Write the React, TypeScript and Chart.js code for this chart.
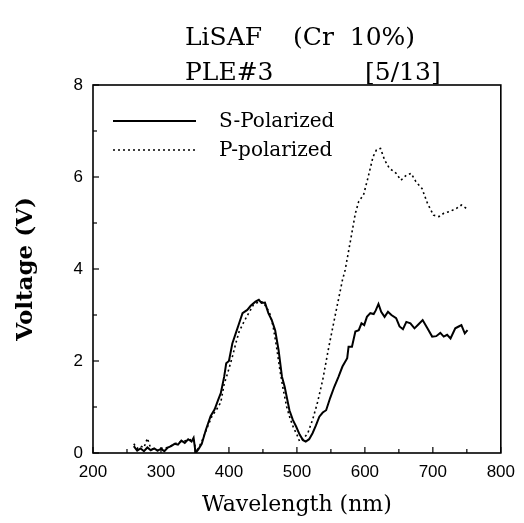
import { useEffect, useRef } from "react";
import { Chart, registerables } from "chart.js";

Chart.register(...registerables);

// ---- data ----
const sWavelength = [
  260, 265, 270, 275, 280, 285, 290, 295, 300, 305, 310, 315, 320, 325, 330, 335, 340, 345, 348, 351,
  355, 360, 366, 373, 379, 384, 388, 393, 396, 400, 405, 410, 415, 420, 427, 432, 439, 444, 448, 453,
  458, 463, 468, 473, 478, 482, 489, 494, 499, 504, 509, 513, 518, 523, 528, 533, 538, 543, 549, 555,
  561, 567, 574, 576, 581, 586, 591, 595, 599, 603, 608, 613, 616, 620, 624, 629, 634, 639, 646, 651,
  656, 661, 667, 673, 679, 685, 692, 699, 705, 711, 716, 721, 726, 733, 738, 742, 747, 751,
];
const sVoltage = [
  0.15, 0.05, 0.1, 0.04, 0.12, 0.06, 0.1, 0.05, 0.09, 0.04, 0.12, 0.15, 0.2, 0.18, 0.27, 0.22, 0.3, 0.25, 0.33, 0.0,
  0.08, 0.2, 0.5, 0.8, 0.95, 1.15, 1.3, 1.66, 1.95, 2.0, 2.38, 2.6, 2.82, 3.04, 3.11, 3.2, 3.29, 3.33, 3.26, 3.27,
  3.04, 2.89, 2.67, 2.24, 1.66, 1.44, 0.93, 0.72, 0.57, 0.4, 0.28, 0.25, 0.3, 0.43, 0.6, 0.79, 0.88, 0.93, 1.2, 1.44,
  1.65, 1.88, 2.06, 2.31, 2.31, 2.64, 2.67, 2.82, 2.78, 2.96, 3.04, 3.02, 3.1, 3.24, 3.07, 2.96, 3.07, 3.0, 2.93, 2.75,
  2.69, 2.85, 2.82, 2.71, 2.8, 2.89, 2.71, 2.53, 2.54, 2.61, 2.53, 2.57, 2.49, 2.71, 2.75, 2.78, 2.6, 2.67,
];

const pWavelength = [
  260, 265, 270, 275, 280, 285, 290, 295, 300, 310, 320, 330, 340, 348, 352, 360, 368, 375, 382, 388,
  393, 398, 405, 410, 415, 422, 429, 436, 444, 450, 456, 461, 465, 470, 475, 480, 485, 490, 495, 500,
  504, 509, 516, 523, 530, 538, 547, 557, 567, 571, 579, 586, 591, 598, 605, 612, 617, 623, 629, 636,
  646, 653, 661, 668, 675, 684, 692, 701, 709, 716, 725, 735, 742, 749,
];
const pVoltage = [
  0.2, 0.1, 0.15, 0.12, 0.32, 0.1, 0.08, 0.05, 0.1, 0.12, 0.2, 0.25, 0.28, 0.3, 0.02, 0.25, 0.55, 0.8, 0.95, 1.1,
  1.5, 1.73, 2.09, 2.38, 2.64, 2.85, 3.04, 3.22, 3.29, 3.28, 3.15, 3.0, 2.75, 2.31, 1.8, 1.37, 1.0, 0.75, 0.55, 0.4,
  0.25, 0.3, 0.43, 0.72, 1.08, 1.59, 2.31, 3.04, 3.76, 3.98, 4.63, 5.21, 5.47, 5.61, 6.01, 6.44, 6.59, 6.62, 6.37, 6.19,
  6.08, 5.93, 6.04, 6.08, 5.9, 5.75, 5.43, 5.17, 5.14, 5.21, 5.25, 5.32, 5.39, 5.32,
];

const seriesNames = ["S-Polarized", "P-polarized"];
const titleLine1 = ["LiSAF", "(Cr  10%)"];
const titleLine2 = ["PLE#3", "[5/13]"];
const xTitle = "Wavelength (nm)";
const yTitle = "Voltage (V)";
const xRange = [200, 800];
const yRange = [0, 8];
const xLabelStep = 100;
const yLabelStep = 2;

const tickFont = "'Liberation Sans Narrow', 'Liberation Sans', Arial, sans-serif";
const serif = "'DejaVu Serif', serif";

const decorPlugin = {
  id: "decor",
  afterDraw(chart: any) {
    const { ctx, chartArea } = chart;
    const { left, right, top, bottom } = chartArea;
    const xs = chart.scales.x;
    const ys = chart.scales.y;
    ctx.save();
    ctx.strokeStyle = "#000";
    ctx.fillStyle = "#000";
    // frame
    ctx.lineWidth = 1.6;
    ctx.strokeRect(left, top, right - left, bottom - top);
    // inward tick marks
    ctx.lineWidth = 1.2;
    xs.ticks.forEach((t: any) => {
      const px = xs.getPixelForValue(t.value);
      const len = t.value % xLabelStep === 0 ? 6 : 4;
      ctx.beginPath();
      ctx.moveTo(px, bottom);
      ctx.lineTo(px, bottom - len);
      ctx.stroke();
    });
    ys.ticks.forEach((t: any) => {
      const py = ys.getPixelForValue(t.value);
      const len = t.value % yLabelStep === 0 ? 6 : 4;
      ctx.beginPath();
      ctx.moveTo(left, py);
      ctx.lineTo(left + len, py);
      ctx.stroke();
    });
    // legend
    const legendY = [121, 150];
    chart.data.datasets.forEach((ds: any, i: number) => {
      ctx.lineWidth = ds.borderWidth;
      ctx.setLineDash(ds.borderDash || []);
      ctx.beginPath();
      ctx.moveTo(113, legendY[i]);
      ctx.lineTo(196, legendY[i]);
      ctx.stroke();
      ctx.setLineDash([]);
      ctx.font = `20px ${serif}`;
      ctx.textBaseline = "middle";
      ctx.textAlign = "left";
      ctx.fillText(seriesNames[i], 219, legendY[i] + 1);
    });
    // top title
    ctx.font = `25px ${serif}`;
    ctx.textBaseline = "alphabetic";
    ctx.textAlign = "left";
    ctx.fillText(titleLine1[0], 185, 45);
    ctx.fillText(titleLine1[1], 293, 45);
    ctx.fillText(titleLine2[0], 185, 80);
    ctx.fillText(titleLine2[1], 365, 80);
    ctx.restore();
  },
};

export default function App() {
  const canvasRef = useRef<HTMLCanvasElement | null>(null);

  useEffect(() => {
    const canvas = canvasRef.current;
    if (!canvas) return;
    const chart = new Chart(canvas, {
      type: "scatter",
      data: {
        datasets: [
          {
            label: seriesNames[0],
            data: sWavelength.map((x, i) => ({ x, y: sVoltage[i] })),
            showLine: true,
            borderColor: "#000",
            borderWidth: 2,
            pointRadius: 0,
            tension: 0,
          },
          {
            label: seriesNames[1],
            data: pWavelength.map((x, i) => ({ x, y: pVoltage[i] })),
            showLine: true,
            borderColor: "#000",
            borderWidth: 1.6,
            borderDash: [2, 3],
            pointRadius: 0,
            tension: 0,
          },
        ],
      },
      options: {
        responsive: false,
        animation: false,
        devicePixelRatio: 1,
        layout: { padding: { top: 85, right: 16, left: 0, bottom: 0 } },
        plugins: {
          legend: { display: false },
          title: { display: false },
          tooltip: { enabled: false },
        },
        scales: {
          x: {
            type: "linear",
            min: xRange[0],
            max: xRange[1],
            grid: { display: false, drawTicks: false },
            border: { display: false },
            ticks: {
              stepSize: 50,
              autoSkip: false,
              maxRotation: 0,
              padding: 9,
              color: "#000",
              font: { family: tickFont, size: 17 },
              callback: (v: any) => (Number(v) % xLabelStep === 0 ? String(v) : ""),
            },
            title: {
              display: true,
              text: xTitle,
              color: "#000",
              font: { family: serif, size: 22 },
              padding: { top: 0, bottom: 5 },
            },
            afterFit: (s: any) => {
              s.height = 70;
            },
          },
          y: {
            type: "linear",
            min: yRange[0],
            max: yRange[1],
            grid: { display: false, drawTicks: false },
            border: { display: false },
            ticks: {
              stepSize: 1,
              autoSkip: false,
              padding: 10,
              color: "#000",
              font: { family: tickFont, size: 17 },
              callback: (v: any) => (Number(v) % yLabelStep === 0 ? String(v) : ""),
            },
            title: {
              display: true,
              text: yTitle,
              color: "#000",
              font: { family: serif, size: 23, weight: "bold" },
              padding: { top: 12, bottom: 0 },
            },
            afterFit: (s: any) => {
              s.width = 93;
            },
          },
        },
      },
      plugins: [decorPlugin],
    });
    return () => chart.destroy();
  }, []);

  return (
    <div style={{ position: "fixed", left: 0, top: 0, width: 524, height: 523, background: "#fff" }}>
      <canvas ref={canvasRef} width={524} height={523} />
    </div>
  );
}
